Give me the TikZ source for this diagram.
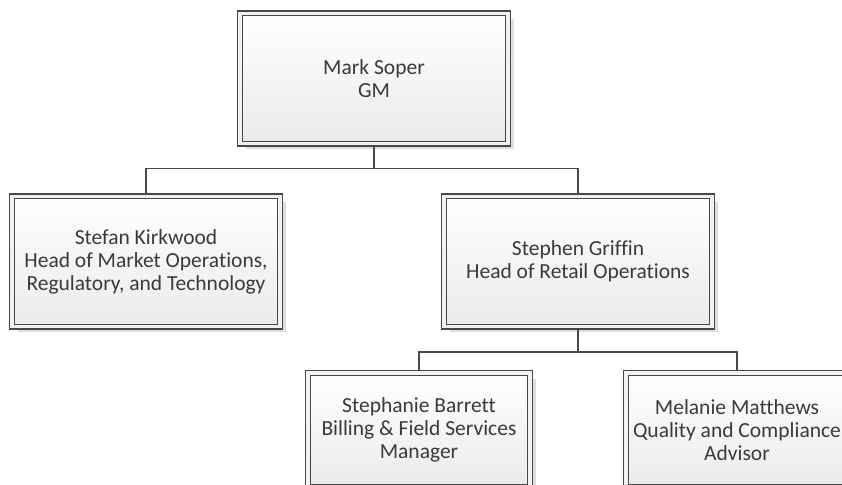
\documentclass[tikz,border=0pt]{standalone}
\usepackage{fontspec}
\setmainfont{Carlito}[Ligatures={NoCommon}]
\usetikzlibrary{shadows}
\definecolor{linec}{HTML}{484848}
\definecolor{txt}{HTML}{3A3A3A}
\begin{document}
\begin{tikzpicture}[x=1pt,y=1pt,
  orgbox/.style={draw=linec, line width=1.5pt, double=white!95!black, double distance=3.2pt,
    top color=white, bottom color=black!8, inner sep=0pt, outer sep=3.1pt,
    text=txt, align=center, font=\fontsize{21.5}{23}\selectfont,
    drop shadow={shadow xshift=5.5pt, shadow yshift=-5.5pt, fill=black!18, opacity=0.7}},
  bigbox/.style={orgbox, minimum width=268pt, minimum height=130.5pt},
  smallbox/.style={orgbox, minimum width=222pt, minimum height=114pt},
  conn/.style={draw=linec, line width=1.7pt}]
\useasboundingbox (0,0) rectangle (842,-484);
\clip (0,0) rectangle (842,-484);
\node[bigbox] (gm) at (374,-78.5) {Mark Soper\\GM};
\node[bigbox] (sk) at (146,-261.5) {Stefan Kirkwood\\Head of Market Operations,\\Regulatory, and Technology};
\node[bigbox] (sg) at (578,-261.5) {Stephen Griffin\\Head of Retail Operations};
\node[smallbox] (sb) at (419,-430) {Stephanie Barrett\\Billing \& Field Services\\Manager};
\node[smallbox] (mm) at (737,-430) {Melanie Matthews\\Quality and Compliance\\Advisor};
\draw[conn] (gm.south) -- ++(0,-21.5) -| (sk.north);
\draw[conn] (gm.south) -- ++(0,-21.5) -| (sg.north);
\draw[conn] (sg.south) -- ++(0,-22) -| (sb.north);
\draw[conn] (sg.south) -- ++(0,-22) -| (mm.north);
\end{tikzpicture}
\end{document}
